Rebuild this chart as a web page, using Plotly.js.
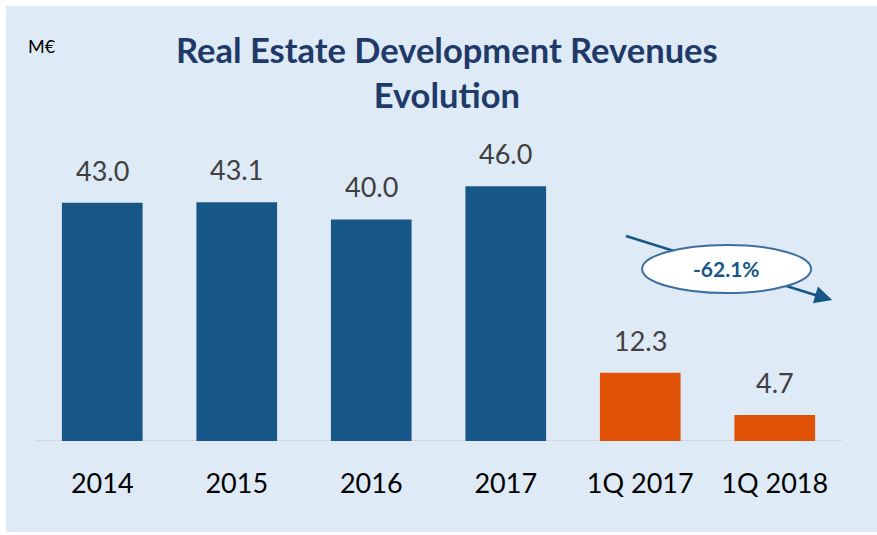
<!DOCTYPE html>
<html>
<head>
<meta charset="utf-8">
<script src="https://cdn.plot.ly/plotly-3.0.1.min.js"></script>
<style>html,body{margin:0;padding:0;background:#fff;}#chart{width:877px;height:535px;}</style>
</head>
<body>
<div id="chart"></div>
<script>
const categories = ["2014", "2015", "2016", "2017", "1Q 2017", "1Q 2018"];
const values = [43.0, 43.1, 40.0, 46.0, 12.3, 4.7];
const valueLabels = ["43.0", "43.1", "40.0", "46.0", "12.3", "4.7"];
const barColors = ["#175787", "#175787", "#175787", "#175787", "#E05206", "#E05206"];
const changeLabel = "-62.1%";
const titleLines = ["Real Estate Development Revenues", "Evolution"];
const unitLabel = "M€";

const FONT = "Lato, 'Open Sans', sans-serif";
const PLOT_H = 277;
const px2paperY = (Y) => (441 - Y) / PLOT_H;

const trace = {
  type: "bar",
  x: categories,
  y: values,
  marker: {color: barColors, line: {width: 0}},
  hoverinfo: "none"
};

const valueAnnotations = categories.map((c, i) => ({
  xref: "x", yref: "y", x: i, y: values[i],
  xanchor: "center", yanchor: "bottom", yshift: 14,
  showarrow: false, text: valueLabels[i],
  font: {family: FONT, size: 27, color: "#404040"}
}));

const layout = {
  width: 877,
  height: 535,
  margin: {l: 35, r: 35, t: 164, b: 94},
  paper_bgcolor: "#ffffff",
  plot_bgcolor: "rgba(0,0,0,0)",
  bargap: 0.4,
  showlegend: false,
  xaxis: {
    type: "category",
    range: [-0.5, categories.length - 0.5],
    autorange: false,
    showgrid: false,
    zeroline: false,
    showline: false,
    ticks: "",
    tickfont: {family: FONT, size: 27, color: "#000000"},
    ticklabelstandoff: 24
  },
  yaxis: {
    range: [0, 50],
    autorange: false,
    showgrid: false,
    zeroline: false,
    showline: false,
    showticklabels: false,
    ticks: ""
  },
  shapes: [
    {type: "rect", xref: "paper", yref: "paper", layer: "below",
     x0: -29/807, x1: 842/807, y0: px2paperY(532), y1: px2paperY(6),
     fillcolor: "#DEEAF6", line: {width: 0}},
    {type: "line", xref: "paper", yref: "y", layer: "below",
     x0: 0, x1: 1, y0: 0, y1: 0, line: {color: "#D0D0D0", width: 1.5}},
    {type: "line", xref: "x", yref: "y", layer: "above",
     x0: 3.894, y0: 37.0, x1: 5.36, y1: 25.9,
     line: {color: "#175787", width: 2.5}},
    {type: "circle", xref: "x", yref: "y", layer: "above",
     x0: 4.014, x1: 5.27, y0: 26.7, y1: 35.4,
     fillcolor: "#ffffff", line: {color: "#3C6E9F", width: 2}}
  ],
  annotations: valueAnnotations.concat([
    {xref: "x", yref: "y", x: 5.427, y: 25.45, ax: -20, ay: -6,
     showarrow: true, arrowhead: 2, arrowsize: 1.4, arrowwidth: 2.5,
     arrowcolor: "#175787", text: ""},
    {xref: "x", yref: "y", x: 4.642, y: 31.05, showarrow: false,
     text: "<b>" + changeLabel + "</b>",
     font: {family: FONT, size: 21, color: "#175787"}},
    {xref: "paper", yref: "paper", x: (446.5 - 35) / 807, y: px2paperY(72),
     xanchor: "center", yanchor: "middle", showarrow: false,
     text: "<b>" + titleLines.join("<br>") + "</b>",
     font: {family: FONT, size: 34.5, color: "#1F3A68"}},
    {xref: "paper", yref: "paper", x: -9 / 807, y: px2paperY(33),
     xanchor: "left", yanchor: "top", showarrow: false, text: unitLabel,
     font: {family: FONT, size: 18, color: "#000000"}}
  ])
};

Plotly.newPlot("chart", [trace], layout, {displayModeBar: false, staticPlot: true});
</script>
</body>
</html>
